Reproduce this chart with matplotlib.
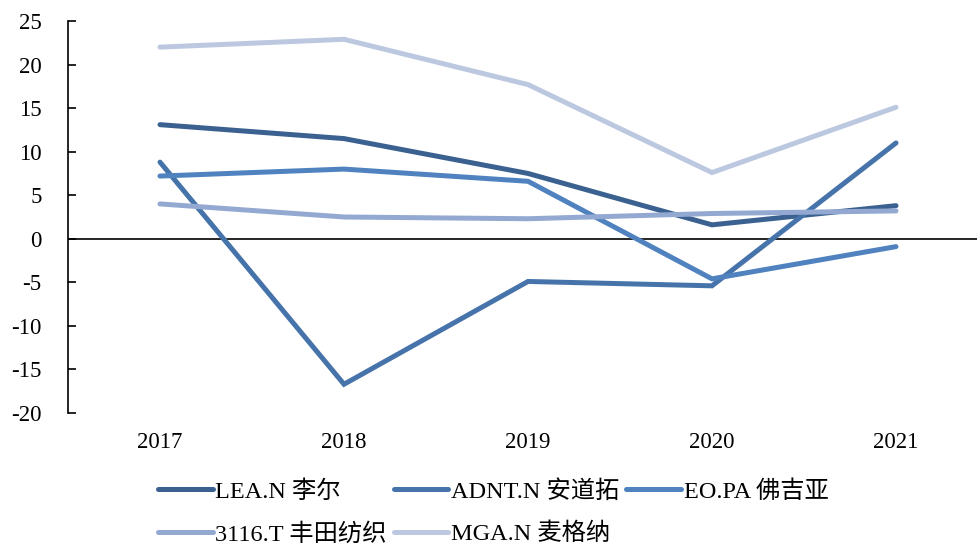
import matplotlib
matplotlib.use("Agg")
import matplotlib.pyplot as plt

plt.rcParams['font.family'] = ['Liberation Serif', 'Noto Sans CJK SC', 'DejaVu Sans']
plt.rcParams['axes.unicode_minus'] = False

years = ["2017", "2018", "2019", "2020", "2021"]
lea = [13.1, 11.5, 7.5, 1.6, 3.8]
adnt = [8.8, -16.7, -4.9, -5.4, 11.0]
eo = [7.2, 8.0, 6.6, -4.6, -0.9]
toyota = [4.0, 2.5, 2.3, 2.9, 3.2]
mga = [22.0, 22.9, 17.7, 7.6, 15.1]

names = ["LEA.N 李尔", "ADNT.N 安道拓", "EO.PA 佛吉亚", "3116.T 丰田纺织", "MGA.N 麦格纳"]
series = [lea, adnt, eo, toyota, mga]
colors = ["#3B6190", "#4674AA", "#4F82BF", "#93A9D2", "#BCC8E0"]

fig = plt.figure(figsize=(9.78, 5.46), dpi=100)
W, H = 978, 546
ax = fig.add_axes([68 / W, (H - 413) / H, 920 / W, (413 - 21) / H])

x = list(range(len(years)))
lines = []
for s, c, n in zip(series, colors, names):
    ln, = ax.plot(x, s, color=c, lw=3.6, solid_capstyle='round', solid_joinstyle='miter', label=n)
    lines.append(ln)

ax.set_xlim(-0.5, len(years) - 0.5)
ax.set_ylim(-20, 25)
ax.set_yticks(range(-20, 26, 5))
ax.axhline(0, color='black', lw=1.2, zorder=1)

for sp in ['top', 'right', 'bottom']:
    ax.spines[sp].set_visible(False)
ax.spines['left'].set_linewidth(1.2)
ax.tick_params(axis='y', direction='in', length=6, width=1.2, labelsize=16.5, pad=19)
ax.tick_params(axis='x', length=0, labelsize=16.5, pad=14)
ax.set_xticks(x)
ax.set_xticklabels(years)
ax.patch.set_visible(False)
fig.patch.set_facecolor('white')

# matplotlib fills legend columns first; reorder so rows read in series order
order = [0, 3, 1, 4, 2]
leg = fig.legend([lines[i] for i in order], [names[i] for i in order],
                 ncol=3, loc='upper left', bbox_to_anchor=(158 / W, 1 - 480 / H),
                 frameon=False, fontsize=17.5, handlelength=2.25, handletextpad=0.1,
                 columnspacing=0.3, labelspacing=0.82, borderpad=0, borderaxespad=0)
for line in leg.get_lines():
    line.set_linewidth(3.6)
    line.set_solid_capstyle('round')

fig.savefig("out.png", dpi=100)
